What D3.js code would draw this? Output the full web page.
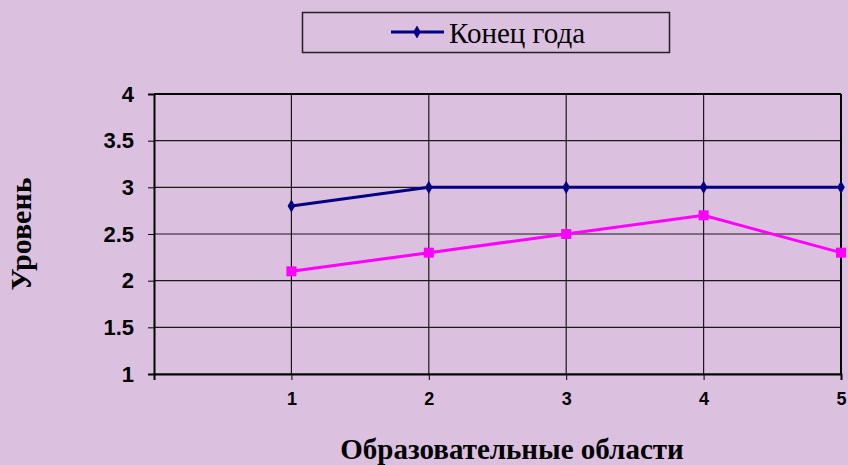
<!DOCTYPE html>
<html>
<head>
	<meta charset="utf-8">
	<title>chart</title>
	<script src="https://cdn.jsdelivr.net/npm/d3@7"></script>
	<style>
		body{ margin:0; background:#dcc0e0; }
		svg{ display:block; }
	</style>
</head>
<body>
	<div id="chart"></div>
	<script>
		// data
		var categories = [1, 2, 3, 4, 5];
		var endOfYear = [2.8, 3, 3, 3, 3];
		var startOfYear = [2.1, 2.3, 2.5, 2.7, 2.3];
		var yTicks = [1, 1.5, 2, 2.5, 3, 3.5, 4];

		var W = 848, H = 465;
		var plotL = 154, plotR = 841, plotT = 94, plotB = 374;

		var svg = d3.select('#chart').append('svg')
			.attr('width', W).attr('height', H);

		svg.append('rect').attr('width', W).attr('height', H).attr('fill', '#dcc0e0');

		var x = d3.scaleLinear().domain([0, 5]).range([plotL, plotR]);
		var y = d3.scaleLinear().domain([1, 4]).range([plotB, plotT]);

		// gridlines
		svg.append('g').selectAll('line').data(yTicks).enter().append('line')
			.attr('x1', plotL).attr('x2', plotR)
			.attr('y1', function(d){ return y(d); }).attr('y2', function(d){ return y(d); })
			.attr('stroke', '#1a1a1a').attr('stroke-width', 1.2);
		svg.append('g').selectAll('line').data(categories).enter().append('line')
			.attr('x1', function(d){ return x(d); }).attr('x2', function(d){ return x(d); })
			.attr('y1', plotT).attr('y2', plotB)
			.attr('stroke', '#1a1a1a').attr('stroke-width', 1.2);

		// frame
		svg.append('line').attr('x1', plotL).attr('x2', plotR).attr('y1', plotT).attr('y2', plotT)
			.attr('stroke', '#000').attr('stroke-width', 2);
		svg.append('line').attr('x1', plotR).attr('x2', plotR).attr('y1', plotT).attr('y2', plotB)
			.attr('stroke', '#000').attr('stroke-width', 2);

		// axes
		var yAxis = d3.axisLeft(y).tickValues(yTicks).tickSize(6).tickPadding(14)
			.tickFormat(function(d){ return d; });
		var gy = svg.append('g').attr('transform', 'translate(' + plotL + ',0)').call(yAxis);
		gy.select('.domain').attr('stroke-width', 2);
		gy.selectAll('text').attr('font-family', 'Liberation Sans, Arial, sans-serif')
			.attr('font-size', 22).attr('font-weight', 'bold').attr('fill', '#000');

		var xAxis = d3.axisBottom(x).tickValues([0].concat(categories)).tickSize(6).tickPadding(12)
			.tickFormat(function(d){ return d === 0 ? '' : d; });
		var gx = svg.append('g').attr('transform', 'translate(0,' + plotB + ')').call(xAxis);
		gx.select('.domain').attr('stroke-width', 2);
		gx.selectAll('text').attr('font-family', 'Liberation Sans, Arial, sans-serif')
			.attr('font-size', 18).attr('font-weight', 'bold').attr('fill', '#000');

		// series
		var line = d3.line()
			.x(function(d, i){ return x(categories[i]); })
			.y(function(d){ return y(d); });

		svg.append('path').datum(startOfYear).attr('d', line)
			.attr('fill', 'none').attr('stroke', '#ff00ff').attr('stroke-width', 3);
		svg.append('g').selectAll('rect').data(startOfYear).enter().append('rect')
			.attr('x', function(d, i){ return x(categories[i]) - 5; })
			.attr('y', function(d){ return y(d) - 5; })
			.attr('width', 10).attr('height', 10).attr('fill', '#ff00ff');

		svg.append('path').datum(endOfYear).attr('d', line)
			.attr('fill', 'none').attr('stroke', '#000080').attr('stroke-width', 3);
		var diamond = d3.symbol().type(d3.symbolDiamond).size(50);
		svg.append('g').selectAll('path').data(endOfYear).enter().append('path')
			.attr('d', diamond)
			.attr('transform', function(d, i){ return 'translate(' + x(categories[i]) + ',' + y(d) + ')'; })
			.attr('fill', '#000080');

		// axis titles
		svg.append('text').attr('x', 512).attr('y', 459).attr('text-anchor', 'middle')
			.attr('font-family', 'Liberation Serif, Times New Roman, serif')
			.attr('font-size', 29).attr('font-weight', 'bold')
			.text('Образовательные области');
		svg.append('text').attr('transform', 'translate(31,234) rotate(-90)').attr('text-anchor', 'middle')
			.attr('font-family', 'Liberation Serif, Times New Roman, serif')
			.attr('font-size', 30).attr('font-weight', 'bold')
			.text('Уровень');

		// legend
		var lg = svg.append('g');
		lg.append('rect').attr('x', 302.5).attr('y', 12.5).attr('width', 367).attr('height', 40)
			.attr('fill', 'none').attr('stroke', '#222').attr('stroke-width', 1.5);
		lg.append('line').attr('x1', 391).attr('x2', 444).attr('y1', 32).attr('y2', 32)
			.attr('stroke', '#000080').attr('stroke-width', 3);
		lg.append('path').attr('d', diamond).attr('transform', 'translate(417,32)').attr('fill', '#000080');
		lg.append('text').attr('x', 449).attr('y', 43)
			.attr('font-family', 'Liberation Serif, Times New Roman, serif')
			.attr('font-size', 29).attr('fill', '#000')
			.text('Конец года');
	</script>
</body>
</html>
